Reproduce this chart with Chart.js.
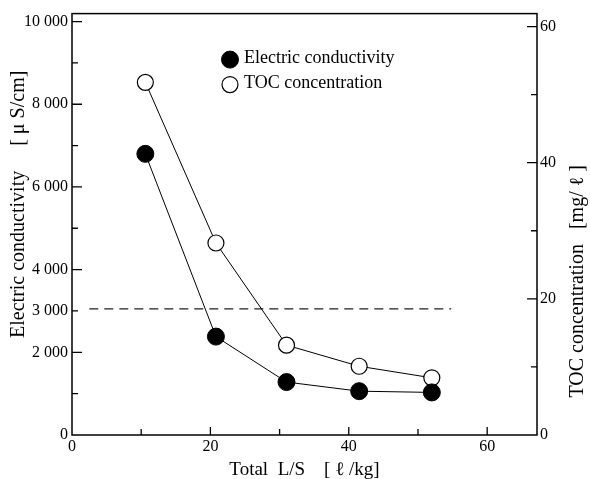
<!DOCTYPE html>
<html><head><meta charset="utf-8">
<script src="https://cdn.jsdelivr.net/npm/chart.js@4"></script>
<style>html,body{margin:0;padding:0;background:#fff}</style>
</head><body>
<canvas id="c" width="590" height="479"></canvas>
<script>
// ---- data ----
const lsValues = [10.6, 20.8, 31.0, 41.5, 52.0];          // Total L/S [l/kg]
const conductivity = [6800, 2380, 1280, 1060, 1030];      // uS/cm (left axis)
const tocConcentration = [51.8, 28.2, 13.2, 10.1, 8.4];   // mg/l (right axis)
const guideX = [2.5, 54.8];
const guideY = [3050, 3050];
const xTicks = [0, 20, 40, 60];
const xMinor = [10, 30, 50];
const leftTicks = [0, 2000, 3000, 4000, 6000, 8000, 10000];
const leftMinor = [1000, 5000, 7000, 9000];
const rightTicks = [0, 20, 40, 60];
const rightMinor = [10, 30, 50];

const FONT = "'Liberation Serif', 'DejaVu Serif', serif";
const pts = (xs, ys) => xs.map((x, i) => ({x: x, y: ys[i]}));
const fmt = v => String(v).replace(/\B(?=(\d{3})+(?!\d))/g, ' ');

const framePlugin = {
  id: 'frame',
  afterDraw(chart) {
    const ctx = chart.ctx, ca = chart.chartArea;
    const xs = chart.scales.x, ys = chart.scales.y, y2 = chart.scales.y2;
    ctx.save();
    ctx.strokeStyle = '#000';
    ctx.lineWidth = 1.5;
    ctx.strokeRect(ca.left, ca.top, ca.right - ca.left, ca.bottom - ca.top);
    ctx.lineWidth = 1.3;
    ctx.beginPath();
    const tick = (x1, y1, x2, y2_) => { ctx.moveTo(x1, y1); ctx.lineTo(x2, y2_); };
    leftTicks.forEach(v => { if (v > 0) { const p = ys.getPixelForValue(v); tick(ca.left, p, ca.left + (v === 3000 ? 6 : 10), p); } });
    leftMinor.forEach(v => { const p = ys.getPixelForValue(v); tick(ca.left, p, ca.left + 6, p); });
    rightTicks.forEach(v => { if (v > 0) { const p = y2.getPixelForValue(v); tick(ca.right, p, ca.right - 10, p); } });
    rightMinor.forEach(v => { const p = y2.getPixelForValue(v); tick(ca.right, p, ca.right - 6, p); });
    xTicks.forEach(v => { if (v > 0) { const p = xs.getPixelForValue(v); tick(p, ca.bottom, p, ca.bottom - 8); } });
    xMinor.forEach(v => { const p = xs.getPixelForValue(v); tick(p, ca.bottom, p, ca.bottom - 6); });
    ctx.stroke();

    // right axis title (reads bottom to top)
    ctx.fillStyle = '#000';
    ctx.font = '20px ' + FONT;
    ctx.textAlign = 'center';
    ctx.textBaseline = 'middle';
    ctx.translate(ca.right + 41, (ca.top + ca.bottom) / 2 + 57);
    ctx.rotate(-Math.PI / 2);
    ctx.fillText('TOC concentration   [mg/ ℓ ]', 0, 0);
    ctx.restore();

    // legend
    ctx.save();
    const items = [chart.data.datasets[0], chart.data.datasets[1]];
    ctx.font = '18px ' + FONT;
    ctx.textAlign = 'left';
    ctx.textBaseline = 'middle';
    items.forEach((ds, i) => {
      const cx = ca.left + 158, cy = ca.top + 46 + i * 25;
      ctx.beginPath();
      ctx.arc(cx, cy, ds.pointRadius, 0, Math.PI * 2);
      ctx.fillStyle = ds.pointBackgroundColor;
      ctx.fill();
      ctx.lineWidth = ds.pointBorderWidth;
      ctx.strokeStyle = ds.pointBorderColor;
      ctx.stroke();
      ctx.fillStyle = '#000';
      ctx.fillText(ds.label, cx + 14, cy - 1);
    });
    ctx.restore();
  }
};

new Chart(document.getElementById('c'), {
  type: 'scatter',
  data: {
    datasets: [
      {
        label: 'Electric conductivity',
        data: pts(lsValues, conductivity),
        yAxisID: 'y',
        showLine: true,
        borderColor: '#000', borderWidth: 1,
        pointRadius: 8.5, pointBackgroundColor: '#000', pointBorderColor: '#000', pointBorderWidth: 1
      },
      {
        label: 'TOC concentration',
        data: pts(lsValues, tocConcentration),
        yAxisID: 'y2',
        showLine: true,
        borderColor: '#000', borderWidth: 1,
        pointRadius: 8, pointBackgroundColor: '#fff', pointBorderColor: '#000', pointBorderWidth: 1.2
      },
      {
        label: 'guide',
        data: pts(guideX, guideY),
        yAxisID: 'y',
        showLine: true,
        borderColor: '#222', borderWidth: 1.2, borderDash: [9, 6],
        pointRadius: 0
      }
    ]
  },
  options: {
    responsive: false,
    animation: false,
    layout: {padding: {top: 11, left: 0, right: 0, bottom: 0}},
    plugins: {legend: {display: false}, tooltip: {enabled: false}},
    scales: {
      x: {
        type: 'linear', position: 'bottom', min: 0, max: 67.2,
        grid: {display: false, drawTicks: false}, border: {display: false},
        afterBuildTicks: s => { s.ticks = xTicks.map(v => ({value: v})); },
        afterFit: s => { s.height = 44; },
        ticks: {color: '#000', font: {family: FONT, size: 16}, padding: 2, maxRotation: 0},
        title: {display: true, text: 'Total  L/S    [ ℓ /kg]', color: '#000', font: {family: FONT, size: 19}, padding: {top: 0, bottom: -2}}
      },
      y: {
        type: 'linear', position: 'left', min: 0, max: 10192,
        grid: {display: false, drawTicks: false}, border: {display: false},
        afterBuildTicks: s => { s.ticks = leftTicks.map(v => ({value: v})); },
        afterFit: s => { s.width = 72; },
        ticks: {color: '#000', font: {family: FONT, size: 16}, padding: 4, callback: v => fmt(v)},
        title: {display: true, text: '        Electric conductivity     [ μ S/cm]', color: '#000', font: {family: FONT, size: 20}, padding: {top: 7, bottom: 0}}
      },
      y2: {
        type: 'linear', position: 'right', min: 0, max: 61.9,
        grid: {display: false, drawTicks: false}, border: {display: false},
        afterBuildTicks: s => { s.ticks = rightTicks.map(v => ({value: v})); },
        afterFit: s => { s.width = 53; },
        ticks: {color: '#000', font: {family: FONT, size: 16}, padding: 3}
      }
    }
  },
  plugins: [framePlugin]
});
</script>
</body></html>
